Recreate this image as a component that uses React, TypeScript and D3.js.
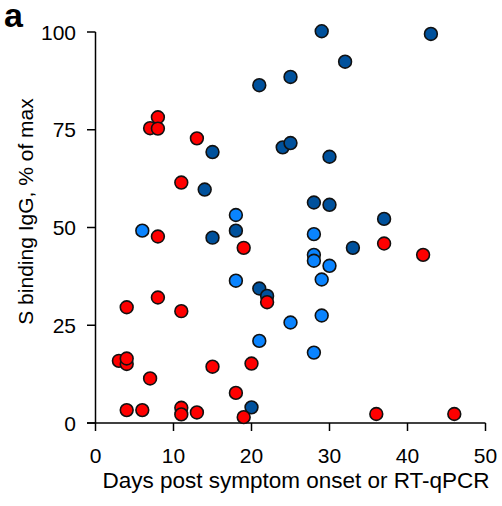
import React from "react";
import * as d3 from "d3";

const redDays = [8, 7, 8, 13, 11, 8, 19, 37, 42, 22, 20, 19, 36, 46, 18, 4, 8, 11, 3, 4, 4, 7, 15, 4, 6, 11, 11, 13];
const redIgG = [78.2, 75.4, 75.3, 72.8, 61.5, 47.7, 44.8, 45.9, 43.0, 30.9, 15.2, 1.5, 2.3, 2.3, 7.7, 29.6, 32.1, 28.6, 15.9, 15.1, 16.5, 11.4, 14.4, 3.3, 3.3, 3.9, 2.2, 2.7];

const darkDays = [21, 15, 14, 18, 15, 29, 43, 32, 25, 24, 25, 30, 28, 30, 37, 33, 21, 22, 20];
const darkIgG = [86.4, 69.3, 59.7, 49.2, 47.4, 100.2, 99.5, 92.4, 88.5, 70.5, 71.6, 68.1, 56.4, 55.8, 52.2, 44.8, 34.4, 32.5, 4.0];

const lightDays = [18, 6, 28, 28, 28, 30, 29, 25, 29, 21, 28, 18];
const lightIgG = [53.2, 49.2, 48.3, 43.0, 41.5, 40.2, 36.7, 25.7, 27.5, 21.0, 18.0, 36.4];

const xTicks = [0, 10, 20, 30, 40, 50];
const yTicks = [0, 25, 50, 75, 100];

const W = 502;
const H = 506;
const FONT = "'Liberation Sans', Arial, sans-serif";

export default function App() {
  const x = d3.scaleLinear().domain([0, 50]).range([95.5, 485.5]);
  const y = d3.scaleLinear().domain([0, 100]).range([423, 32]);

  const groups = [
    { days: darkDays, igg: darkIgG, color: "#00519c" },
    { days: lightDays, igg: lightIgG, color: "#0a84ff" },
    { days: redDays, igg: redIgG, color: "#ff0000" },
  ];

  return (
    <svg
      width={W}
      height={H}
      style={{ position: "absolute", left: 0, top: 0, background: "#fff" }}
      fontFamily={FONT}
    >
      <text x={4} y={27} fontSize={34} fontWeight="bold" fill="#000">a</text>

      {/* y axis */}
      <line x1={x(0)} x2={x(0)} y1={y(100)} y2={y(0)} stroke="#000" strokeWidth={1.5} />
      {yTicks.map((t) => (
        <g key={"y" + t}>
          <line x1={x(0) - 8.5} x2={x(0)} y1={y(t)} y2={y(t)} stroke="#000" strokeWidth={1.5} />
          <text x={76} y={y(t)} dy="0.36em" textAnchor="end" fontSize={21} fill="#000">{t}</text>
        </g>
      ))}

      {/* x axis */}
      <line x1={x(0) - 8.5} x2={x(50)} y1={y(0)} y2={y(0)} stroke="#000" strokeWidth={1.5} />
      {xTicks.map((t) => (
        <g key={"x" + t}>
          <line x1={x(t)} x2={x(t)} y1={y(0)} y2={y(0) + 8} stroke="#000" strokeWidth={1.5} />
          <text x={x(t)} y={463} textAnchor="middle" fontSize={21} fill="#000">{t}</text>
        </g>
      ))}

      <text x={296} y={488} textAnchor="middle" fontSize={22.5} fill="#000">
        Days post symptom onset or RT-qPCR
      </text>
      <text
        transform={`translate(33, 211.5) rotate(-90)`}
        textAnchor="middle"
        fontSize={21}
        fill="#000"
      >
        S binding IgG, % of max
      </text>

      {groups.map((g, gi) => (
        <g key={"g" + gi}>
          {g.days.map((d, i) => (
            <circle
              key={i}
              cx={x(d)}
              cy={y(g.igg[i])}
              r={6.4}
              fill={g.color}
              stroke="#111"
              strokeWidth={1.6}
            />
          ))}
        </g>
      ))}
    </svg>
  );
}
